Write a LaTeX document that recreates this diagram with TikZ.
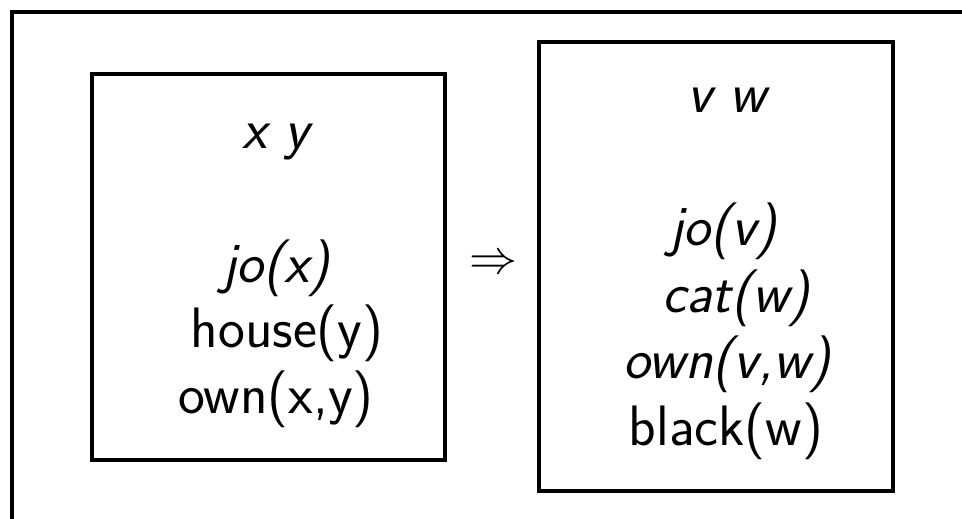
\RequirePackage{fix-cm}
\documentclass[tikz,border=0pt]{standalone}
\usepackage{tikz}
\usetikzlibrary{positioning}
\tikzset{
  frame/.style={draw=black, line width=4pt},
  drsbox/.style={rectangle, draw=black, line width=4pt, inner sep=0pt},
  cond/.style={anchor=base, inner sep=0pt, font=\fontsize{57}{66}\selectfont\sffamily},
  icond/.style={cond, font=\fontsize{57}{66}\selectfont\sffamily\itshape}
}
\begin{document}
\begin{tikzpicture}[x=1pt,y=-1pt]
\useasboundingbox (0,0) rectangle (962,519);
\draw[frame] (12,12) rectangle (1000,560);
% left DRS
\node[drsbox, minimum width=353pt, minimum height=386pt] (lbox) at (268.5,267) {};
\node[icond] (lref) at (276,148) {x\ y};
\node[icond] (ljo) at (276,282) {jo(x)};
\node[cond] (lhouse) at (287,347) {house(y)};
\node[cond] (lown) at (276,413) {own(x,y)};
% implication
\node[inner sep=0pt, font=\fontsize{48}{58}\selectfont] (imp) at (493,265) {$\Rightarrow$};
% right DRS
\node[drsbox, minimum width=354pt, minimum height=449pt] (rbox) at (716,266.5) {};
\node[icond] (rref) at (727,113) {v\ w};
\node[icond] (rjo) at (723,245) {jo(v)};
\node[icond] (rcat) at (736,312) {cat(w)};
\node[icond] (rown) at (727,378) {own(v,w)};
\node[cond] (rblack) at (726,445) {black(w)};
\end{tikzpicture}
\end{document}
